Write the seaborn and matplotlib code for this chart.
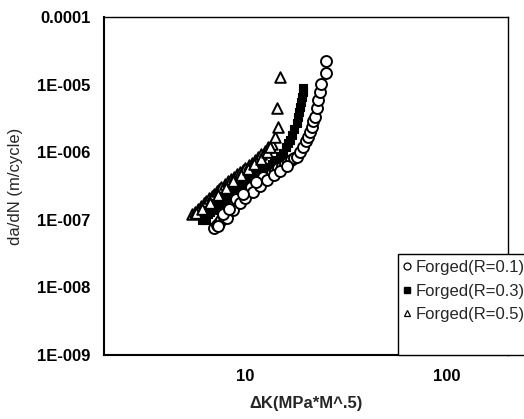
import matplotlib
matplotlib.use("Agg")
import pandas as pd
import seaborn as sns
import matplotlib.pyplot as plt
from matplotlib.patches import Rectangle
from matplotlib.lines import Line2D
from matplotlib.ticker import LogLocator, NullFormatter


# Forged, R = 0.1 (open circles)
DK_R01 = [7.0, 7.2, 7.4, 7.6, 7.8, 8.0, 8.2, 8.4, 8.6, 8.9, 9.2, 9.5, 9.8,
          10.1, 10.4, 10.7, 11.0, 11.5, 12.0, 12.5, 13.0, 13.5, 14.0, 14.5,
          15.1, 15.7, 16.3, 16.9, 17.4, 17.9, 18.6, 19.3, 19.9, 20.5, 20.9,
          21.3, 21.7, 22.1, 22.5, 22.9, 23.4, 23.8, 25.0, 25.2,
          # scatter around the main trend
          7.3, 8.1, 8.7, 9.0, 9.4, 10.0, 10.6, 10.9, 11.8, 12.2, 12.8, 13.8,
          14.8, 16.0, 7.7, 8.3, 9.7, 11.3]
DADN_R01 = [7.6e-8, 8.3e-8, 9.1e-8, 1.0e-7, 1.1e-7, 1.2e-7, 1.3e-7, 1.42e-7,
            1.55e-7, 1.75e-7, 1.92e-7, 2.1e-7, 2.28e-7, 2.47e-7, 2.67e-7,
            2.88e-7, 3.1e-7, 3.5e-7, 3.8e-7, 4.15e-7, 4.5e-7, 4.9e-7, 5.3e-7,
            5.75e-7, 6.25e-7, 6.7e-7, 7.2e-7, 7.7e-7, 8.1e-7, 8.6e-7, 1.0e-6,
            1.2e-6, 1.45e-6, 1.7e-6, 2.0e-6, 2.4e-6, 2.85e-6, 3.35e-6, 4.5e-6,
            5.9e-6, 7.9e-6, 1.02e-5, 1.47e-5, 2.2e-5,
            8.0e-8, 1.05e-7, 1.4e-7, 2.0e-7, 1.75e-7, 2.1e-7, 3.1e-7, 2.6e-7,
            3.2e-7, 4.3e-7, 3.9e-7, 4.6e-7, 5.3e-7, 6.3e-7, 1.2e-7, 1.45e-7,
            2.4e-7, 3.6e-7]

# Forged, R = 0.3 (filled squares)
DK_R03 = [6.1, 6.3, 6.5, 6.7, 6.9, 7.1, 7.3, 7.5, 7.7, 7.9, 8.1, 8.4, 8.7,
          9.0, 9.3, 9.6, 9.9, 10.2, 10.5, 10.8, 11.1, 11.6, 12.2, 12.8, 13.5,
          14.2, 14.8, 15.4, 15.9, 16.3, 16.6, 17.0, 17.4, 17.9, 18.2, 18.4,
          18.6, 18.8, 19.0, 19.2, 19.3,
          6.4, 6.6, 7.2, 7.6, 8.0, 8.9, 9.8, 10.6, 11.5, 12.5, 13.8]
DADN_R03 = [1.0e-7, 1.1e-7, 1.2e-7, 1.3e-7, 1.4e-7, 1.5e-7, 1.6e-7, 1.7e-7,
            1.82e-7, 1.95e-7, 2.1e-7, 2.33e-7, 2.55e-7, 2.8e-7, 3.05e-7,
            3.3e-7, 3.55e-7, 3.85e-7, 4.15e-7, 4.5e-7, 4.9e-7, 5.2e-7, 5.5e-7,
            6.1e-7, 6.8e-7, 7.7e-7, 8.7e-7, 9.8e-7, 1.2e-6, 1.35e-6, 1.5e-6,
            1.8e-6, 2.2e-6, 2.7e-6, 3.3e-6, 4.0e-6, 4.7e-6, 5.6e-6, 6.6e-6,
            7.7e-6, 8.8e-6,
            1.0e-7, 1.35e-7, 1.7e-7, 1.6e-7, 2.25e-7, 2.9e-7, 3.7e-7, 4.4e-7,
            5.0e-7, 6.0e-7, 7.2e-7]

# Forged, R = 0.5 (open triangles)
DK_R05 = [5.4, 5.6, 5.8, 6.0, 6.2, 6.4, 6.6, 6.8, 7.0, 7.2, 7.4, 7.6, 7.9,
          8.2, 8.5, 8.8, 9.1, 9.4, 9.7, 10.0, 10.4, 10.8, 11.2, 11.6, 12.0,
          12.5, 13.0, 13.5, 14.0, 14.5, 14.3, 14.8,
          5.7, 6.1, 6.7, 7.3, 8.0, 8.7, 9.5, 10.3, 11.0, 11.9, 12.8, 13.3]
DADN_R05 = [1.2e-7, 1.32e-7, 1.45e-7, 1.6e-7, 1.75e-7, 1.9e-7, 2.07e-7,
            2.25e-7, 2.45e-7, 2.65e-7, 2.85e-7, 3.05e-7, 3.4e-7, 3.7e-7,
            4.0e-7, 4.35e-7, 4.7e-7, 5.1e-7, 5.5e-7, 5.9e-7, 6.4e-7, 6.9e-7,
            7.6e-7, 8.4e-7, 9.3e-7, 1.05e-6, 1.18e-6, 1.32e-6, 1.67e-6,
            2.36e-6, 4.5e-6, 1.3e-5,
            1.25e-7, 1.45e-7, 1.8e-7, 2.3e-7, 3.0e-7, 3.7e-7, 4.6e-7, 5.6e-7,
            6.6e-7, 8.0e-7, 1.0e-6, 1.2e-6]

LABELS = ["Forged(R=0.1)", "Forged(R=0.3)", "Forged(R=0.5)"]

Y_TICKS = [1e-9, 1e-8, 1e-7, 1e-6, 1e-5, 1e-4]
Y_TICK_LABELS = ["1E-009", "1E-008", "1E-007", "1E-006", "1E-005", "0.0001"]
X_TICKS = [10, 100]
X_TICK_LABELS = ["10", "100"]


def plot() -> None:
    sns.set_theme(style="white")
    plt.rcParams["font.family"] = ["Liberation Sans", "DejaVu Sans"]

    fig = plt.figure(figsize=(5.24, 4.19), dpi=100)
    fig.patch.set_facecolor("white")
    ax = fig.add_axes([0.1994, 0.1527, 0.770, 0.8067])
    ax.set_xscale("log")
    ax.set_yscale("log")

    # squares first, open markers drawn over them
    sns.scatterplot(x=DK_R03, y=DADN_R03, ax=ax, marker="s", s=40,
                    color="black", edgecolor="black", linewidth=0.8,
                    legend=False, zorder=3)
    sns.scatterplot(x=DK_R01, y=DADN_R01, ax=ax, marker="o", s=62,
                    color="white", edgecolor="black", linewidth=1.4,
                    legend=False, zorder=4)
    sns.scatterplot(x=DK_R05, y=DADN_R05, ax=ax, marker="^", s=58,
                    color="white", edgecolor="black", linewidth=1.4,
                    legend=False, zorder=5)

    ax.set_xlim(2, 200)
    ax.set_ylim(1e-9, 1e-4)

    ax.set_xticks(X_TICKS)
    ax.set_xticklabels(X_TICK_LABELS)
    ax.set_yticks(Y_TICKS)
    ax.set_yticklabels(Y_TICK_LABELS)
    ax.xaxis.set_minor_locator(LogLocator(base=10, subs=range(2, 10)))
    ax.yaxis.set_minor_locator(LogLocator(base=10, subs=range(2, 10)))
    ax.xaxis.set_minor_formatter(NullFormatter())
    ax.yaxis.set_minor_formatter(NullFormatter())

    ax.tick_params(axis="both", which="major", direction="in", length=5,
                   width=1, colors="black", labelsize=12)
    ax.tick_params(axis="both", which="minor", direction="in", length=3,
                   width=0.8, colors="black")
    ax.tick_params(axis="y", which="both", pad=10)
    ax.tick_params(axis="x", which="both", pad=10)
    for lab in ax.get_xticklabels() + ax.get_yticklabels():
        lab.set_fontweight("bold")

    ax.set_xlabel("\u0394K(MPa*M^.5)", fontsize=12, fontweight="bold",
                  labelpad=9)
    ax.set_ylabel("da/dN (m/cycle)", fontsize=12, labelpad=10)

    for side, spine in ax.spines.items():
        spine.set_visible(True)
        spine.set_color("black")
        spine.set_linewidth(1.5 if side in ("left", "bottom") else 1.0)
    ax.grid(False)

    # legend box sticks out past the right edge of the axes
    box = Rectangle((0.727, 0.0), 0.36, 0.30, transform=ax.transAxes,
                    facecolor="white", edgecolor="black", linewidth=1.0,
                    clip_on=False, zorder=8)
    ax.add_patch(box)
    handles = [
        Line2D([], [], linestyle="none", marker="o", markersize=5,
               markerfacecolor="white", markeredgecolor="black", mew=0.9),
        Line2D([], [], linestyle="none", marker="s", markersize=4,
               markerfacecolor="black", markeredgecolor="black"),
        Line2D([], [], linestyle="none", marker="^", markersize=5,
               markerfacecolor="white", markeredgecolor="black", mew=0.9),
    ]
    leg = ax.legend(handles, LABELS, loc="upper left",
                    bbox_to_anchor=(0.729, 0.290), frameon=False,
                    prop={"family": ["Liberation Sans", "DejaVu Sans"],
                          "size": 12},
                    handlelength=0.6, handletextpad=0.25, labelspacing=0.5,
                    borderpad=0.2, borderaxespad=0)
    leg.set_zorder(9)

    fig.savefig("out.png", dpi=100, facecolor="white")


def main() -> None:
    plot()


if __name__ == "__main__":
    main()
